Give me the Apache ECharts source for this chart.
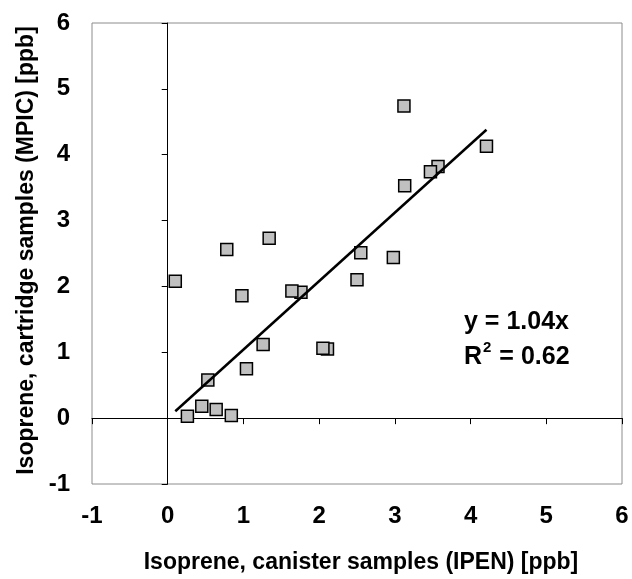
<!DOCTYPE html>
<html>
<head>
<meta charset="utf-8">
<script src="https://cdn.jsdelivr.net/npm/echarts@6/dist/echarts.min.js"></script>
<style>
html,body{margin:0;padding:0;background:#fff;}
#chart{width:632px;height:579px;}
</style>
</head>
<body>
<div id="chart"></div>
<script>
// Data (drawn in descending x order so overlaps match)
var canister  = [4.21, 3.57, 3.47, 3.13, 3.12, 2.98, 2.55, 2.50, 2.11, 2.05, 1.76, 1.64, 1.34, 1.26, 1.04, 0.98, 0.84, 0.78, 0.64, 0.53, 0.45, 0.26, 0.10];
var cartridge = [4.13, 3.82, 3.74, 3.53, 4.74, 2.44, 2.51, 2.10, 1.05, 1.06, 1.91, 1.93, 2.73, 1.12, 0.75, 1.86, 0.04, 2.56, 0.13, 0.58, 0.18, 0.03, 2.08];
var slope = 1.04;
var rSquared = 0.62;
var trendX = [0.10, 4.21];
var tickMin = -1, tickMax = 6;
var xTitle = 'Isoprene, canister samples (IPEN) [ppb]';
var yTitle = 'Isoprene, cartridge samples (MPIC) [ppb]';

var points = canister.map(function (x, i) { return [x, cartridge[i]]; });
var trend = trendX.map(function (x) { return [x, slope * x]; });

var FONT = 'Liberation Sans, Arial, sans-serif';
var chart = echarts.init(document.getElementById('chart'), null, {renderer: 'canvas'});
var labelStyle = {fontFamily: FONT, fontWeight: 'bold', fontSize: 24, color: '#000'};

chart.setOption({
  animation: false,
  backgroundColor: '#fff',
  grid: {left: 92, right: 10, top: 23, bottom: 92, show: true, borderColor: '#8c8c8c', borderWidth: 1, backgroundColor: 'transparent'},
  xAxis: [
    {
      type: 'value', min: tickMin, max: tickMax, interval: 1, position: 'bottom',
      axisLine: {show: false}, axisTick: {show: false}, splitLine: {show: false},
      axisLabel: Object.assign({margin: 20}, labelStyle),
      name: xTitle, nameLocation: 'middle', nameGap: 67,
      nameTextStyle: {fontFamily: FONT, fontWeight: 'bold', fontSize: 23, color: '#000', padding: [0, 0, 0, 8]}
    },
    {
      type: 'value', min: tickMin, max: tickMax, interval: 1, position: 'bottom',
      axisLine: {show: true, onZero: true, onZeroAxisIndex: 0, lineStyle: {color: '#000', width: 1}},
      axisTick: {show: true, inside: false, length: 6, lineStyle: {color: '#000', width: 1}},
      axisLabel: {show: false}, splitLine: {show: false}
    }
  ],
  yAxis: [
    {
      type: 'value', min: tickMin, max: tickMax, interval: 1, position: 'left',
      axisLine: {show: false}, axisTick: {show: false}, splitLine: {show: false},
      axisLabel: Object.assign({margin: 22}, labelStyle),
      name: yTitle, nameLocation: 'middle', nameGap: 54,
      nameTextStyle: {fontFamily: FONT, fontWeight: 'bold', fontSize: 23, color: '#000', padding: [0, 0, 0, 6]}
    },
    {
      type: 'value', min: tickMin, max: tickMax, interval: 1, position: 'left',
      axisLine: {show: true, onZero: true, onZeroAxisIndex: 0, lineStyle: {color: '#000', width: 1}},
      axisTick: {show: true, inside: false, length: 6, lineStyle: {color: '#000', width: 1}},
      axisLabel: {show: false}, splitLine: {show: false}
    }
  ],
  series: [
    {
      type: 'scatter', xAxisIndex: 0, yAxisIndex: 0,
      symbol: 'rect', symbolSize: 12,
      itemStyle: {color: '#c0c0c0', borderColor: '#000', borderWidth: 1.5, opacity: 1},
      data: points, z: 3
    },
    {
      type: 'line', xAxisIndex: 0, yAxisIndex: 0,
      data: trend, showSymbol: false, symbol: 'none',
      lineStyle: {color: '#000', width: 2.5}, z: 4
    }
  ],
  graphic: [
    {
      type: 'text', left: 464, top: 305, z: 10,
      style: {
        text: '{b|y = ' + slope.toFixed(2) + 'x}\n{b|R}{sup|2}{b| = ' + rSquared.toFixed(2) + '}',
        font: 'bold 25px ' + FONT, fill: '#000', lineHeight: 35,
        rich: {
          b: {font: 'bold 25px ' + FONT, fill: '#000', lineHeight: 35},
          sup: {font: 'bold 15px ' + FONT, fill: '#000', verticalAlign: 'top', lineHeight: 35, padding: [0, 1, 10, 1]}
        }
      }
    }
  ]
});
</script>
</body>
</html>
